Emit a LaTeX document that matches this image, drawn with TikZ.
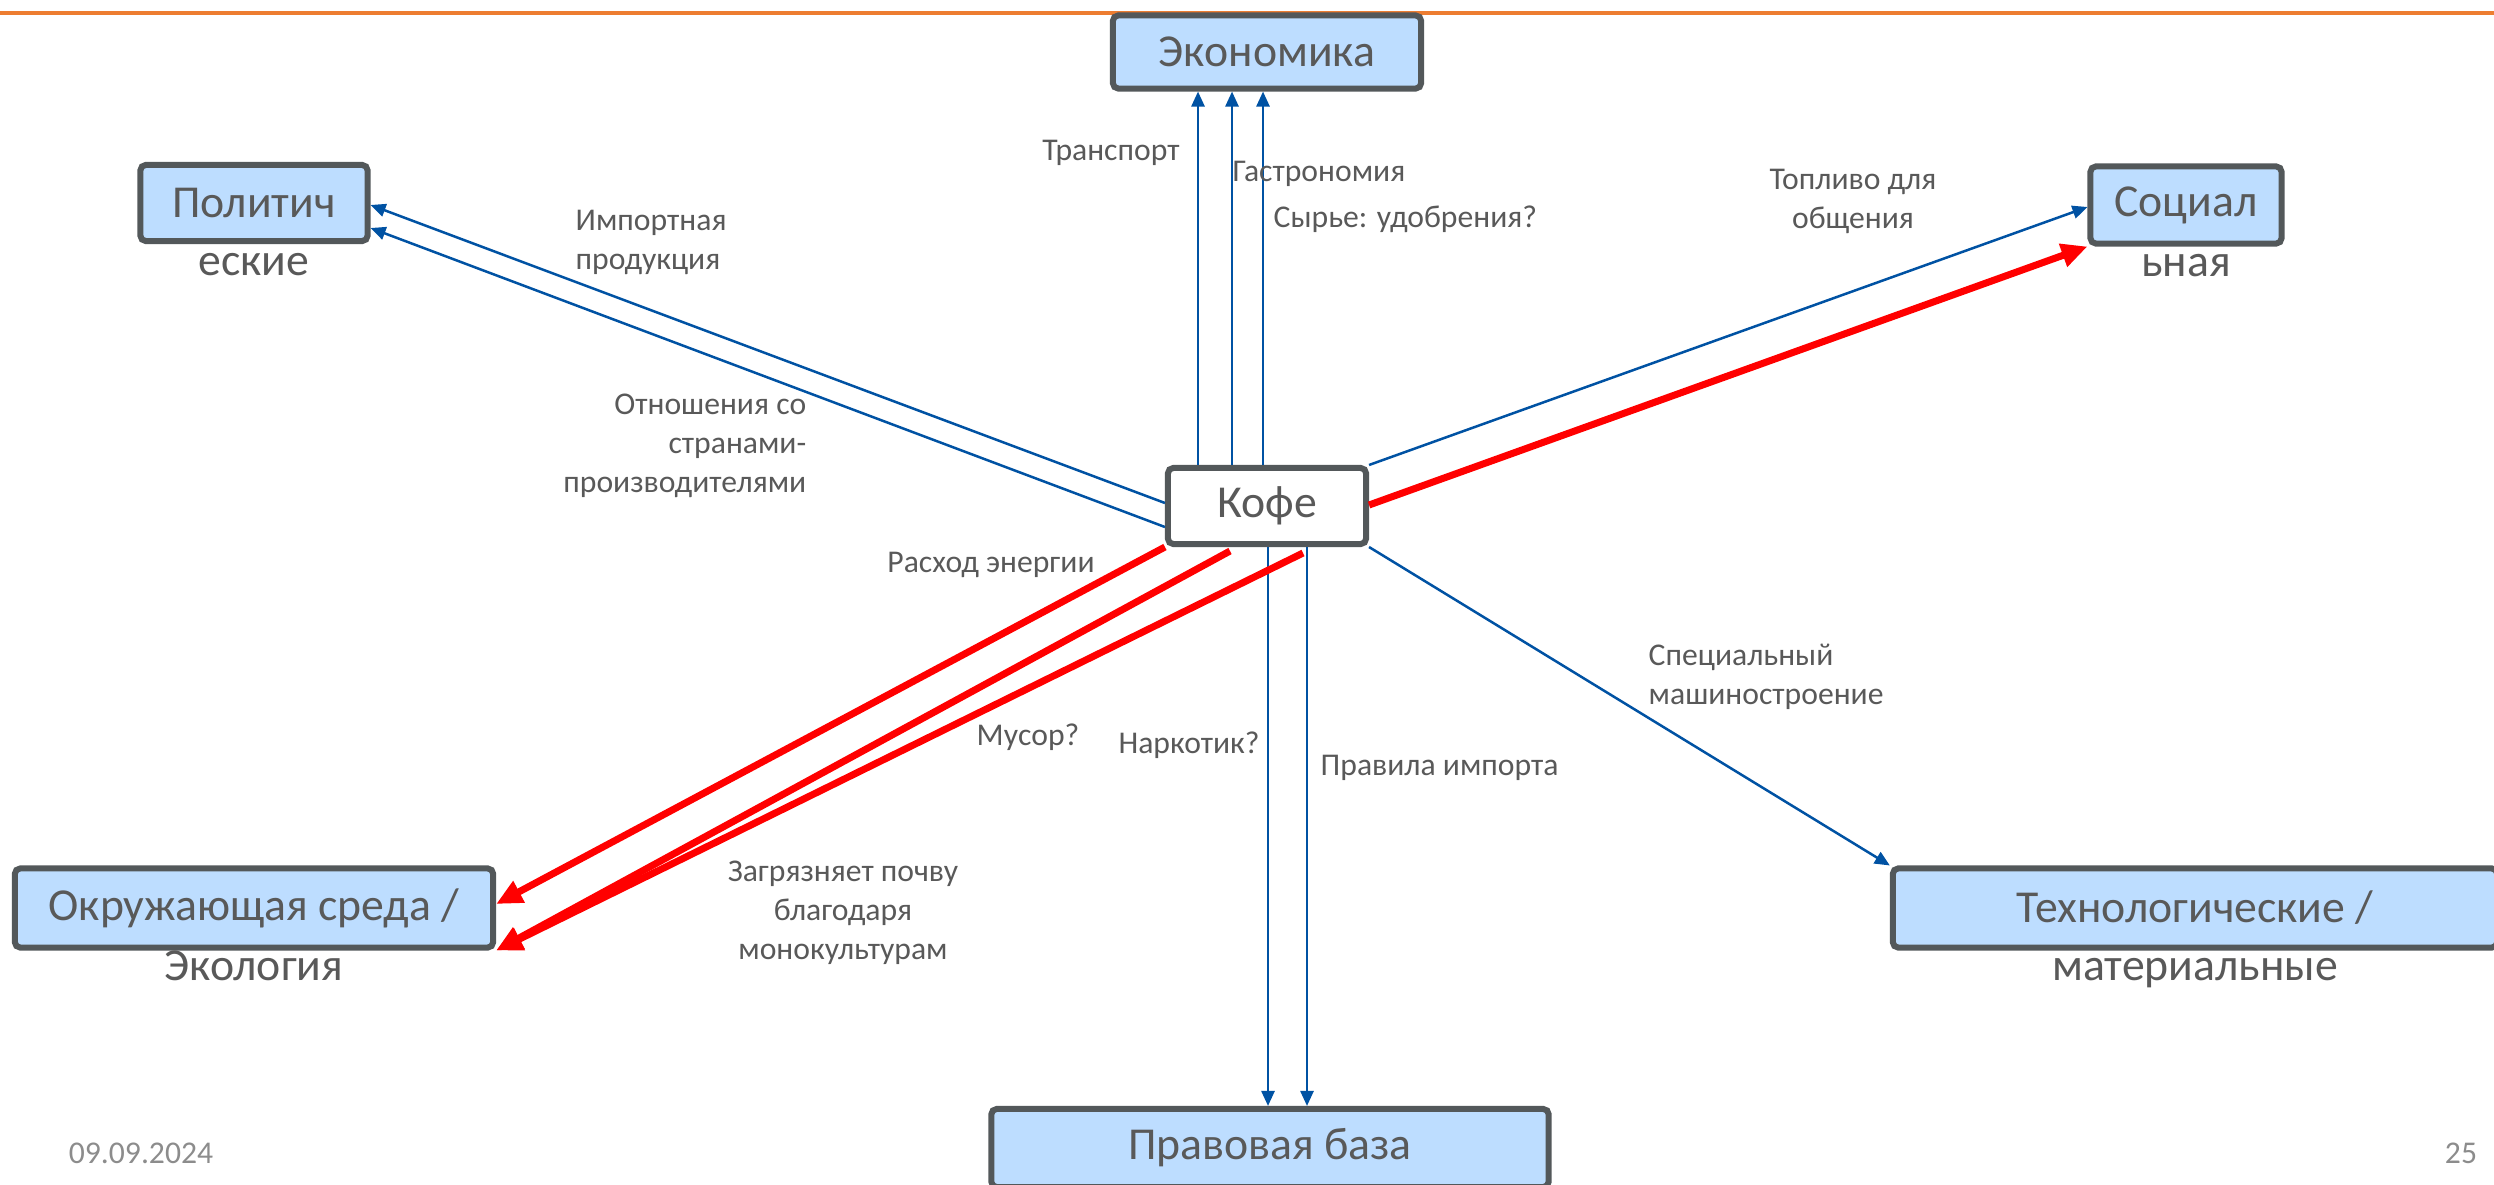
\documentclass[tikz,border=0pt]{standalone}
\usepackage{fontspec}
\setmainfont{Carlito}
\usetikzlibrary{arrows.meta}

\definecolor{boxfill}{HTML}{BDDDFF}
\definecolor{boxline}{HTML}{53585A}
\definecolor{txtgray}{HTML}{595959}
\definecolor{linkblue}{HTML}{0052A3}
\definecolor{slideorange}{HTML}{ED7D31}
\definecolor{dategray}{HTML}{8C8C8C}

\tikzset{
  facbox/.style={draw=boxline,line width=0.06cm,fill=boxfill,rounded corners=1.5pt,
    text=txtgray,font=\fontsize{13}{17}\selectfont,inner sep=0pt},
  factext/.style={text=txtgray,font=\fontsize{13}{17}\selectfont,inner sep=0pt,anchor=base},
  lbl/.style={text=txtgray,font=\fontsize{9}{11.1}\selectfont,inner sep=0pt},
  bluearr/.style={draw=linkblue,line width=0.025cm,-{Triangle[length=0.15cm,width=0.13cm]}},
  redarr/.style={draw=red,line width=0.07cm,-{Triangle[length=0.26cm,width=0.23cm]}}
}

\begin{document}
\begin{tikzpicture}[x=0.01cm,y=-0.01cm]
\useasboundingbox (0,0) rectangle (2494,1185);
\clip (0,0) rectangle (2494,1185);

% slide rule
\draw[slideorange,line width=0.04cm] (0,13) coordinate(ruleleft) -- (2494,13) coordinate(ruleright);

% The boxes
\node (econ) at (1267,52) [facbox,minimum width=3.08cm,minimum height=0.73cm] {Экономика};
\node (polit) at (254,203) [facbox,minimum width=2.27cm,minimum height=0.76cm] {Политич};
\node (politb) at (254,275) [factext] {еские};
\node (social) at (2186,205) [facbox,minimum width=1.91cm,minimum height=0.77cm] {Социал};
\node (socialb) at (2186,277) [factext] {ьная};
\node (kofe) at (1267,506) [facbox,fill=white,minimum width=1.98cm,minimum height=0.76cm] {Кофе};
\node (env) at (254,908) [facbox,minimum width=4.78cm,minimum height=0.79cm] {Окружающая среда /};
\node (envb) at (254,980) [factext] {Экология};
\node (tech) at (2195,908) [facbox,minimum width=6.04cm,minimum height=0.79cm] {Технологические /};
\node (techb) at (2195,980) [factext] {материальные};
\node (law) at (1270,1148) [facbox,minimum width=5.57cm,minimum height=0.78cm] {Правовая база};

% Economy arrows
\path (kofe.north) +(-69,0) coordinate(econa);
\path (kofe.north) +(-35,0) coordinate(econb);
\path (kofe.north) +(-4,0) coordinate(econc);
\draw[bluearr] (econa) -- (econa |- econ.south);
\draw[bluearr] (econb) -- (econb |- econ.south);
\draw[bluearr] (econc) -- (econc |- econ.south);
\node (transport) at (1111,153) [lbl] {Транспорт};
\node (gastro) at (1232,174) [lbl,anchor=west] {Гастрономия};
\node (syrye) at (1273,219) [lbl,anchor=west] {Сырье: удобрения?};

% Law arrows
\path (kofe.south) +(1,0) coordinate(lawa);
\path (kofe.south) +(40,0) coordinate(lawb);
\draw[bluearr] (lawa) -- (lawa |- law.north);
\draw[bluearr] (lawb) -- (lawb |- law.north);
\node (narkotik) at (1189,745) [lbl] {Наркотик?};
\node (pravila) at (1320,768) [lbl,anchor=west] {Правила импорта};

% Politics arrows
\draw[bluearr] ([yshift=0.03cm]kofe.west) -- ([yshift=-0.02cm]polit.east);
\draw[bluearr] ([yshift=-0.21cm]kofe.west) -- ([yshift=-0.25cm]polit.east);
\node (importlbl) at (575,242) [lbl,anchor=west,align=left] {Импортная\\продукция};
\node (relations) at (807,446) [lbl,anchor=east,align=right] {Отношения со\\странами-\\производителями};

% Social arrows
\draw[bluearr] (kofe.north east) -- ([yshift=-0.02cm]social.west);
\draw[redarr] ([yshift=0.01cm]kofe.east) -- (social.south west);
\node (toplivo) at (1853,201) [lbl,align=center] {Топливо для\\общения};

% Technology arrow
\draw[bluearr] (kofe.south east) -- (tech.north west);
\node (spec) at (1648,677) [lbl,anchor=west,align=left] {Специальный\\машиностроение};

% Environment arrows
\path (kofe.south) +(-37,4) coordinate(enva);
\path (kofe.south) +(36,6) coordinate(envc);
\draw[redarr] (kofe.south west) -- ([yshift=0.04cm]env.east);
\draw[redarr] (enva) -- (env.south east);
\draw[redarr] (envc) -- (env.south east);
\node (raskhod) at (991,565) [lbl] {Расход энергии};
\node (musor) at (1028,737) [lbl] {Мусор?};
\node (zagr) at (843,913) [lbl,align=center] {Загрязняет почву\\благодаря\\монокультурам};

% footer
\node (date) at (141,1153) [lbl,text=dategray] {09.09.2024};
\node (pagenum) at (2461,1153) [lbl,text=dategray] {25};

\end{tikzpicture}
\end{document}
